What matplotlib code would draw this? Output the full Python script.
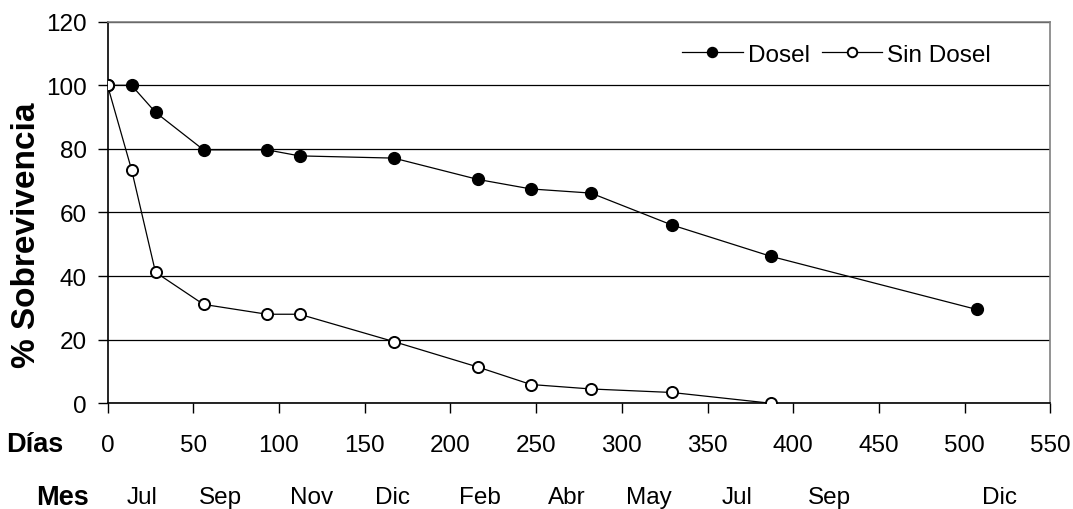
import numpy as np
import matplotlib
matplotlib.use("Agg")
import matplotlib.pyplot as plt
import matplotlib.transforms as mtransforms

plt.rcParams['font.family'] = ['Liberation Sans', 'DejaVu Sans']

# survival over time, with and without canopy
dias = [0, 14, 28, 56, 93, 112, 167, 216, 247, 282, 329, 387, 507]
dosel = [100, 100, 91.5, 79.7, 79.7, 77.8, 77.1, 70.4, 67.4, 66.1, 56.1, 46.2, 29.5]
dias_sin = [0, 14, 28, 56, 93, 112, 167, 216, 247, 282, 329, 387]
sin_dosel = [100, 73.5, 41.2, 31.1, 28.0, 28.0, 19.4, 11.4, 5.9, 4.5, 3.4, 0]

# month names under the day axis, placed at their day position
meses = ['Jul', 'Sep', 'Nov', 'Dic', 'Feb', 'Abr', 'May', 'Jul', 'Sep', 'Dic']
meses_x = [20, 66, 119, 166, 217, 268, 316, 367, 421, 520]

fig = plt.figure(figsize=(10.73, 5.10), dpi=100)
ax = fig.add_axes([0.1002, 0.2073, 0.8788, 0.7482])

ax.plot(dias, dosel, '-o', color='black', lw=0.9, ms=8.5,
        mfc='black', mec='black', label='Dosel', zorder=3)
ax.plot(dias_sin, sin_dosel, '-o', color='black', lw=0.9, ms=8,
        mfc='white', mec='black', mew=1.4, label='Sin Dosel', zorder=4)

ax.set_xlim(0, 550)
ax.set_ylim(0, 120)
ax.set_xticks(np.arange(0, 551, 50))
ax.set_yticks(np.arange(0, 121, 20))
ax.yaxis.grid(True, color='black', lw=0.9)
ax.set_axisbelow(True)

for s in ['top', 'right']:
    ax.spines[s].set_color('#808080')
    ax.spines[s].set_linewidth(1.2)
for s in ['left', 'bottom']:
    ax.spines[s].set_color('black')
    ax.spines[s].set_linewidth(1.2)

ax.tick_params(axis='x', direction='out', length=7, width=1, pad=15, labelsize=17.5)
ax.tick_params(axis='y', direction='out', length=7, width=1, pad=8, labelsize=17.5)

ax.set_ylabel('% Sobrevivencia', fontsize=24, fontweight='bold')
ax.yaxis.set_label_coords(-0.0695, 0.444)

fig.text(35 / 1073, 1 - 445 / 510, 'Días', fontsize=19.5, fontweight='bold',
         ha='center', va='center')
fig.text(62 / 1073, 1 - 498 / 510, 'Mes', fontsize=19.5, fontweight='bold',
         ha='center', va='center')

trans = mtransforms.blended_transform_factory(ax.transData, fig.transFigure)
for m, x in zip(meses, meses_x):
    ax.text(x, 1 - 498 / 510, m, transform=trans, fontsize=17.5,
            ha='center', va='center', clip_on=False)

ax.legend(loc='center right', bbox_to_anchor=(0.937, 0.913), ncol=2, frameon=False,
          fontsize=17.5, handlelength=2.5, handletextpad=0.2, columnspacing=0.5,
          borderaxespad=0, borderpad=0, markerscale=0.85)

fig.savefig('out.png', dpi=100)
